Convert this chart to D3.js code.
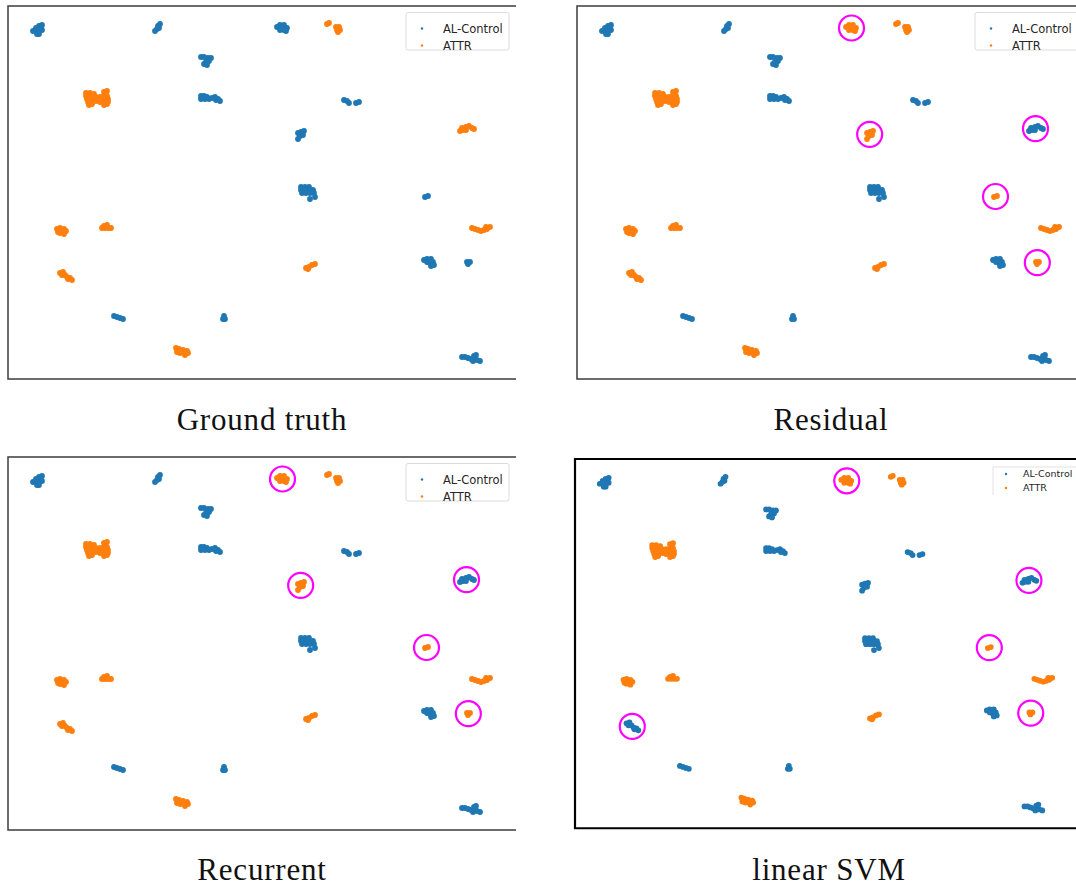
<!DOCTYPE html>
<html>
<head>
<meta charset="utf-8">
<script src="https://cdnjs.cloudflare.com/ajax/libs/d3/7.8.5/d3.min.js"></script>
<style>
  body { margin: 0; background: #fff; }
  svg { display: block; }
</style>
</head>
<body>
<div id="chart"></div>
<script>
// t-SNE embedding (one list of points per cluster)
const cluster00 = [[42,25],[39,26],[41,28],[36,28],[33,31],[36,31],[39,31],[42,30],[37,34],[39,34]];
const cluster01 = [[160,24],[158,26],[159,28],[157,29],[155,31]];
const cluster02 = [[277,27],[280,25],[284,25],[287,28],[284,30],[280,30],[282,28],[286,31]];
const cluster03 = [[327,24],[329,23],[336,27],[339,27],[337,30],[340,30],[338,32]];
const cluster04 = [[201,57],[204,57],[208,58],[211,58],[209,61],[206,62],[204,64],[207,65]];
const cluster05 = [[86,93],[90,93],[94,94],[104,92],[107,91],
  [86,96],[89,96],[92,96],[96,97],[100,97],[104,96],[107,96],
  [87,99],[90,99],[93,99],[97,99],[101,99],[104,99],[108,99],
  [88,102],[92,102],[96,101],[100,102],[104,102],[108,102],
  [89,105],[92,104],[104,105],[107,104]];
const cluster06 = [[201,96],[204,96],[207,97],[201,99],[205,99],[209,99],[212,98],[215,97],[218,99],[220,101],[216,100]];
const cluster07 = [[344,100],[347,101],[349,103],[356,103],[359,102]];
const cluster08 = [[460,131],[463,130],[462,128],[466,127],[469,126],[472,128],[474,129],[466,130]];
const cluster09 = [[298,133],[301,132],[304,131],[300,136],[303,135],[298,139]];
const cluster10 = [[301,187],[305,187],[309,187],[301,190],[305,190],[309,190],[313,190],
  [302,193],[306,193],[310,193],[314,193],[310,199],[315,197]];
const cluster11 = [[425,197],[428,196]];
const cluster12 = [[57,229],[60,228],[64,229],[66,231],[58,232],[62,232],[64,234],[60,233]];
const cluster13 = [[102,228],[105,228],[108,228],[111,228],[107,225],[104,226]];
const cluster14 = [[472,228],[475,229],[478,230],[481,231],[484,230],[487,229],[490,227],[486,227]];
const cluster15 = [[424,260],[427,259],[431,259],[433,262],[430,263],[427,262],[431,266],[434,265]];
const cluster16 = [[467,262],[470,262],[468,264]];
const cluster17 = [[60,273],[63,272],[62,275],[65,275],[67,277],[70,278],[72,280],[68,279]];
const cluster18 = [[306,268],[309,267],[312,265],[315,264],[308,269]];
const cluster19 = [[114,316],[117,317],[120,318],[123,319]];
const cluster20 = [[224,316],[223,319],[225,319]];
const cluster21 = [[176,348],[179,349],[183,350],[187,351],[177,352],[180,353],[184,353],[188,353],[185,355]];
const cluster22 = [[462,357],[465,357],[468,358],[471,359],[474,356],[476,355],[477,360],[480,361],[473,361]];

const clusters = [cluster00, cluster01, cluster02, cluster03, cluster04, cluster05, cluster06, cluster07,
  cluster08, cluster09, cluster10, cluster11, cluster12, cluster13, cluster14, cluster15, cluster16,
  cluster17, cluster18, cluster19, cluster20, cluster21, cluster22];

const classNames = ['AL-Control', 'ATTR'];

// class of each cluster (0 = AL-Control, 1 = ATTR)
const truthLabels     = [0,0,0,1,0,1,0,0,1,0,0,0,1,1,1,0,0,1,1,0,0,1,0];
const residualLabels  = [0,0,1,1,0,1,0,0,0,1,0,1,1,1,1,0,1,1,1,0,0,1,0];
const recurrentLabels = [0,0,1,1,0,1,0,0,0,1,0,1,1,1,1,0,1,1,1,0,0,1,0];
const svmLabels       = [0,0,1,1,0,1,0,0,0,0,0,1,1,1,1,0,1,0,1,0,0,1,0];

const panelTitles = ['Ground truth', 'Residual', 'Recurrent', 'linear SVM'];

// ---- layout ----
const W = 1076, H = 888;
const color = d3.scaleOrdinal().domain([0, 1]).range(['#1f77b4', '#ff7f0e']);
const xDomain = [8, 516], yDomain = [6, 379];

const panels = [
  { title: panelTitles[0], labels: truthLabels, left: 8, top: 6, k: 1, clipRight: 516,
    frame: '#3c3c3c', frameW: 1.5, capY: 430,
    legend: { x: 398, y: 6.5, w: 103, h: 37.5, mx: 16, tx: 37, r1: 16, r2: 33, fs: 11.5, full: true } },
  { title: panelTitles[1], labels: residualLabels, left: 577, top: 6, k: 1, clipRight: 1076,
    frame: '#3c3c3c', frameW: 1.5, capY: 430,
    legend: { x: 398, y: 6.5, w: 103, h: 37.5, mx: 16, tx: 37, r1: 16, r2: 33, fs: 11.5, full: true } },
  { title: panelTitles[2], labels: recurrentLabels, left: 8, top: 457, k: 1, clipRight: 516,
    frame: '#3c3c3c', frameW: 1.5, capY: 880,
    legend: { x: 398, y: 6.5, w: 103, h: 37.5, mx: 16, tx: 37, r1: 16, r2: 33, fs: 11.5, full: true } },
  { title: panelTitles[3], labels: svmLabels, left: 575, top: 459, k: 0.99, clipRight: 1076,
    frame: '#000', frameW: 2.2, capY: 880,
    legend: { x: 418, y: 8, w: 90, h: 28, mx: 13, tx: 30, r1: 7, r2: 21, fs: 9.5, full: false } }
];

const svg = d3.select('#chart').append('svg')
  .attr('width', W)
  .attr('height', H);

panels.forEach((p, pi) => {
  const x = d3.scaleLinear().domain(xDomain).range([p.left, p.left + (xDomain[1] - xDomain[0]) * p.k]);
  const y = d3.scaleLinear().domain(yDomain).range([p.top, p.top + (yDomain[1] - yDomain[0]) * p.k]);
  const right = p.clipRight;
  const bottom = y(yDomain[1]);

  svg.append('clipPath').attr('id', 'clip' + pi)
    .append('rect')
    .attr('x', p.left).attr('y', p.top - 3)
    .attr('width', right - p.left).attr('height', bottom - p.top + 6);

  const g = svg.append('g').attr('clip-path', `url(#clip${pi})`);

  // scatter points
  clusters.forEach((pts, ci) => {
    g.selectAll(null)
      .data(pts)
      .enter()
      .append('circle')
      .attr('cx', d => x(d[0]))
      .attr('cy', d => y(d[1]))
      .attr('r', 2.9 * p.k)
      .attr('fill', color(p.labels[ci]));
  });

  // magenta rings where prediction differs from ground truth
  clusters.forEach((pts, ci) => {
    if (p.labels[ci] === truthLabels[ci]) return;
    g.append('circle')
      .attr('cx', x(d3.mean(pts, d => d[0])))
      .attr('cy', y(d3.mean(pts, d => d[1])))
      .attr('r', 12.5)
      .attr('fill', 'none')
      .attr('stroke', '#ff00ff')
      .attr('stroke-width', 2.2);
  });

  // legend
  const L = p.legend;
  const lg = g.append('g').attr('transform', `translate(${p.left + L.x},${p.top + L.y})`);
  if (L.full) {
    lg.append('rect')
      .attr('width', L.w).attr('height', L.h)
      .attr('rx', 2)
      .attr('fill', 'white').attr('fill-opacity', 0.8)
      .attr('stroke', '#dcdcdc').attr('stroke-width', 1);
  } else {
    lg.append('path')
      .attr('d', `M0,${L.h} V0 H${right}`)
      .attr('fill', 'none')
      .attr('stroke', '#e2e2e2').attr('stroke-width', 1);
  }
  classNames.forEach((name, i) => {
    const ry = i === 0 ? L.r1 : L.r2;
    lg.append('circle')
      .attr('cx', L.mx).attr('cy', ry)
      .attr('r', 1.2)
      .attr('fill', color(i));
    lg.append('text')
      .attr('x', L.tx).attr('y', ry)
      .attr('dy', '0.35em')
      .style('font-family', 'DejaVu Sans, sans-serif')
      .style('font-size', L.fs + 'px')
      .style('fill', '#262626')
      .text(name);
  });

  // axes frame: left, top, bottom (right side is cropped away)
  svg.append('path')
    .attr('d', `M${right},${p.top} H${p.left} V${bottom} H${right}`)
    .attr('fill', 'none')
    .attr('stroke', p.frame)
    .attr('stroke-width', p.frameW);

  // caption
  svg.append('text')
    .attr('x', p.left + 254)
    .attr('y', p.capY)
    .attr('text-anchor', 'middle')
    .style('font-family', 'Liberation Serif, serif')
    .style('font-size', '31px')
    .style('letter-spacing', '0.8px')
    .style('fill', '#111')
    .text(p.title);
});
</script>
</body>
</html>
